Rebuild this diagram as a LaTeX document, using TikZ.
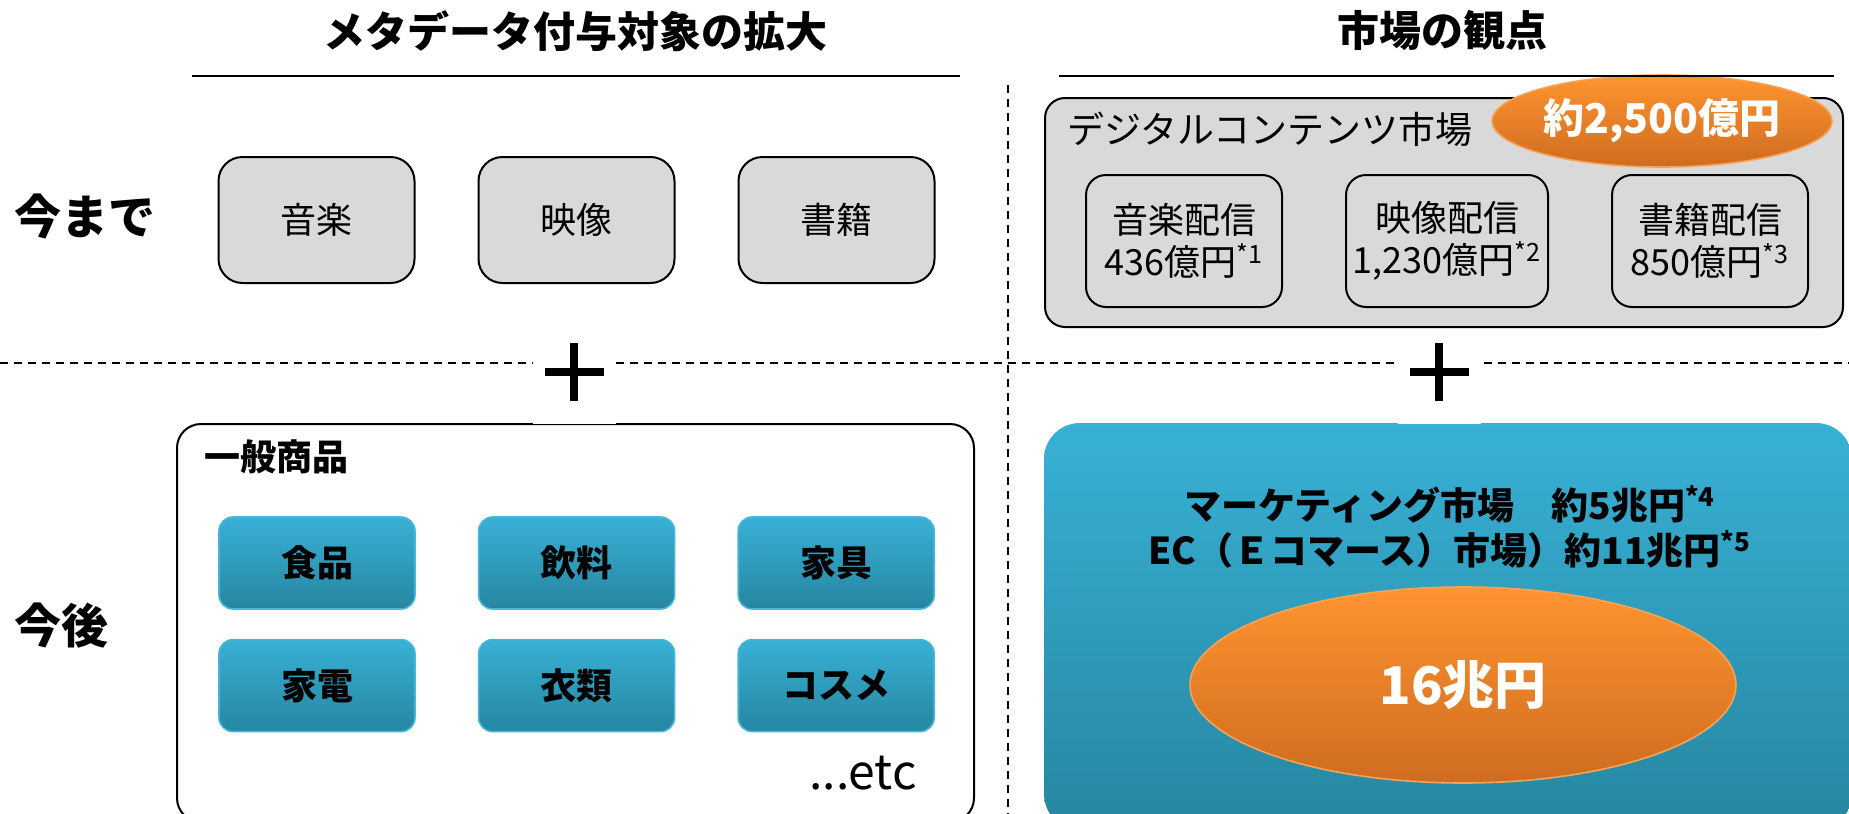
\documentclass[tikz,border=0pt]{standalone}
\usepackage{fontspec}
\setmainfont{Noto Sans CJK JP}
\usepackage{tikz}
\usetikzlibrary{positioning,shapes.geometric}
\definecolor{gray_fill}{RGB}{217,217,217}
\definecolor{blue_top}{RGB}{56,177,214}
\definecolor{blue_bottom}{RGB}{38,134,160}
\definecolor{blue_edge}{RGB}{72,182,216}
\definecolor{orange_top}{RGB}{255,148,48}
\definecolor{orange_bottom}{RGB}{206,108,32}
\definecolor{orange_edge}{RGB}{248,162,84}

\begin{document}
\begin{tikzpicture}[
      x=0.5pt, y=-0.5pt,
      title/.style={
         inner sep=0pt,
         font=\fontsize{21}{25}\selectfont\bfseries},
      side_label/.style={
         inner sep=0pt,
         font=\fontsize{23.5}{27}\selectfont\bfseries},
      box_gray/.style={
         rectangle,
         rounded corners=12pt,
         draw=black,
         line width=1pt,
         fill=gray_fill,
         minimum width=98pt,
         minimum height=63pt,
         font=\fontsize{18}{21}\selectfont},
      box_market/.style={
         rectangle,
         rounded corners=10pt,
         draw=black,
         line width=1pt,
         fill=gray_fill,
         minimum width=98pt,
         minimum height=66pt,
         align=center,
         font=\fontsize{18}{21}\selectfont},
      box_blue/.style={
         rectangle,
         rounded corners=7pt,
         draw=blue_edge,
         line width=0.8pt,
         top color=blue_top,
         bottom color=blue_bottom,
         minimum width=98pt,
         minimum height=46pt,
         font=\fontsize{18}{21}\selectfont\bfseries},
      oval/.style={
         ellipse,
         draw=orange_edge,
         line width=0.8pt,
         top color=orange_top,
         bottom color=orange_bottom,
         inner sep=0pt,
         text=white},
      plusbox/.style={
         rectangle,
         fill=white,
         minimum width=41.5pt,
         minimum height=43pt,
         path picture={
           \draw[line width=4pt] ([yshift=4.75pt]path picture bounding box.center)
              +(-14.75pt,0) -- +(14.75pt,0) +(0,-14.5pt) -- +(0,14.5pt);}},
      dashline/.style={dash pattern=on 4pt off 3pt, line width=0.9pt},
      rule/.style={line width=1.2pt},
      node distance=14.5pt and 31pt,
      ]
      \useasboundingbox (0,0) rectangle (1849,814);
      % section lines
      \draw[dashline] (1008,85) -- (1008,814);
      \draw[dashline] (0,363) -- (1849,363);

      % titles
      \node[title] (meta_title) at (575,31) {メタデータ付与対象の拡大};
      \node[title] (market_title) at (1442,31) {市場の観点};
      \draw[rule] (192,76) -- (960,76);

      % until now
      \node[side_label] (past) at (85,216) {今まで};
      \node[box_gray] (music) at (316.5,220) {音楽};
      \node[box_gray,right=of music] (video) {映像};
      \node[box_gray,right=of video] (book) {書籍};

      % from now on
      \node[side_label] (future) at (62,626) {今後};
      \node[rectangle,rounded corners=12pt,draw=black,line width=1pt,
            minimum width=398.5pt,minimum height=199pt] (goods) at (575.5,623) {};
      \node[anchor=west,inner sep=0pt,font=\fontsize{18}{21}\selectfont\bfseries]
            (goods_title) at (204,457) {一般商品};
      \node[box_blue] (food) at (317,563) {食品};
      \node[box_blue,right=of food] (drink) {飲料};
      \node[box_blue,right=of drink] (furniture) {家具};
      \node[box_blue,below=of food] (appliance) {家電};
      \node[box_blue,right=of appliance] (clothes) {衣類};
      \node[box_blue,right=of clothes] (cosme) {コスメ};
      \node[inner sep=0pt,font=\fontsize{24}{28}\selectfont] (etc) at (863,773) {...etc};

      % digital contents market
      \node[rectangle,rounded corners=10pt,draw=black,line width=1pt,fill=gray_fill,
            minimum width=399pt,minimum height=114.5pt] (digital) at (1444,212.5) {};
      \node[anchor=west,inner sep=0pt,font=\fontsize{18.5}{22}\selectfont]
            (digital_title) at (1067,129) {デジタルコンテンツ市場};
      \node[oval,minimum width=170pt,minimum height=46pt,
            font=\fontsize{20.5}{24}\selectfont\bfseries] (digital_sum) at (1662,121) {約2,500億円};
      \draw[rule] (1059,76) -- (1834,76);
      \node[box_market] (music_dl) at (1184,241) {音楽配信\\436億円\textsuperscript{*1}};
      \node[box_market,right=of music_dl] (video_dl) {映像配信\\1,230億円\textsuperscript{*2}};
      \node[box_market,right=of video_dl] (book_dl) {書籍配信\\850億円\textsuperscript{*3}};

      % general market
      \node[rectangle,rounded corners=18pt,top color=blue_top,bottom color=blue_bottom,
            minimum width=404pt,minimum height=203.5pt] (general) at (1448,626.5) {};
      \node[align=center,inner sep=0pt,font=\fontsize{18.5}{22.5}\selectfont\bfseries]
            (general_text) at (1450,527)
            {マーケティング市場　約5兆円\textsuperscript{*4}\\EC（Ｅコマース）市場）約11兆円\textsuperscript{*5}};
      \node[oval,minimum width=273pt,minimum height=98pt,
            font=\fontsize{26}{30}\selectfont\bfseries] (general_sum) at (1463,685) {16兆円};

      % plus signs
      \node[plusbox] (plus_left) at (574,381) {};
      \node[plusbox] (plus_right) at (1439,381) {};
    \end{tikzpicture}
\end{document}
